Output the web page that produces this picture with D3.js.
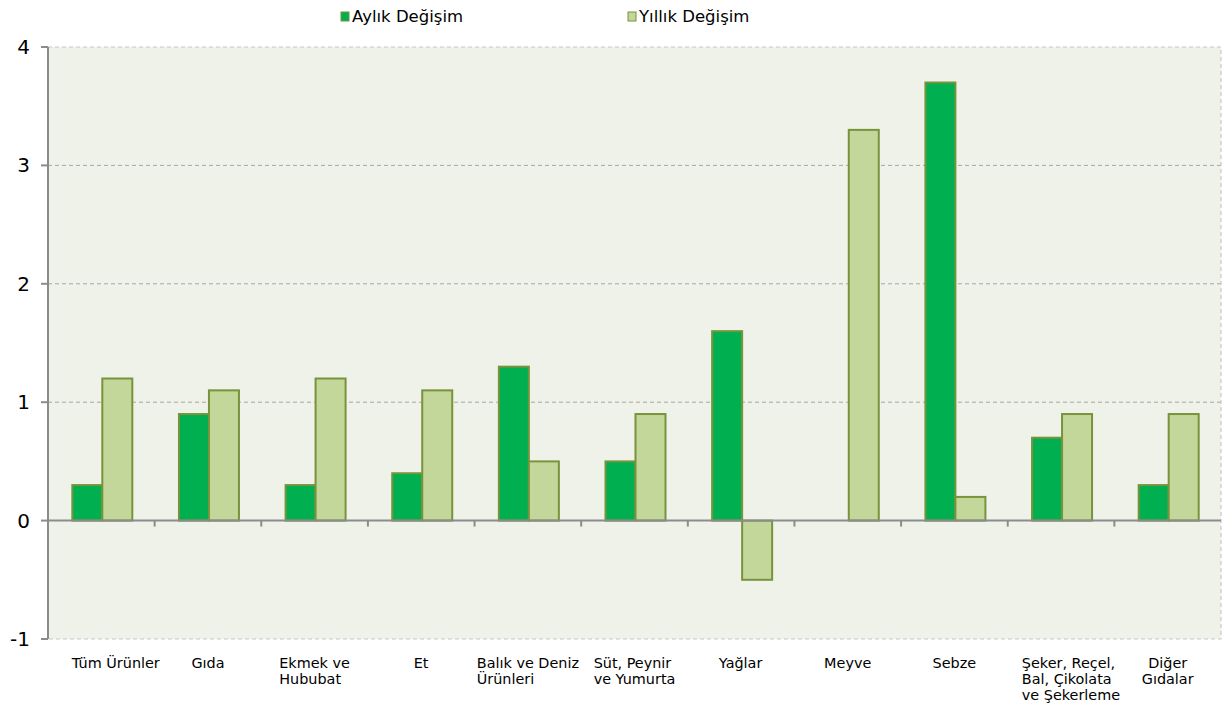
<!DOCTYPE html>
<html><head><meta charset="utf-8">
<script src="https://cdn.jsdelivr.net/npm/d3@7"></script>
<style>body{margin:0;background:#fff}svg{display:block}</style>
</head><body>
<svg id="c" width="1223" height="710"></svg>
<script>
const categories = [["Tüm Ürünler"],["Gıda"],["Ekmek ve","Hububat"],["Et"],["Balık ve Deniz","Ürünleri"],["Süt, Peynir","ve Yumurta"],["Yağlar"],["Meyve"],["Sebze"],["Şeker, Reçel,","Bal, Çikolata","ve Şekerleme"],["Diğer","Gıdalar"]];
const aylik = [0.3,0.9,0.3,0.4,1.3,0.5,1.6,0,3.7,0.7,0.3];
const yillik = [1.2,1.1,1.2,1.1,0.5,0.9,-0.5,3.3,0.2,0.9,0.9];
const seriesNames = ["Aylık Değişim","Yıllık Değişim"];
const yTicks = [-1,0,1,2,3,4];

const svg = d3.select("#c");
const font = "DejaVu Sans, Verdana, sans-serif";
const L=48, R=1221, T=47, B=639;
const x = d3.scaleBand().domain(d3.range(categories.length)).range([L,R]).padding(0);
const y = d3.scaleLinear().domain([-1,4]).range([B,T]);
const colors = ["#00b050","#c4d79b"];
const stroke = "#77933c";

svg.append("rect").attr("x",L).attr("y",T).attr("width",R-L).attr("height",B-T).attr("fill","#eff2e8");
svg.append("g").selectAll("line").data([1,2,3]).join("line")
 .attr("x1",L).attr("x2",R).attr("y1",d=>y(d)).attr("y2",d=>y(d))
 .attr("stroke","#a6a6a6").attr("stroke-dasharray","4,3").attr("stroke-width",1);
svg.append("path").attr("d",`M${L},${T}H${R}V${B}H${L}`).attr("fill","none")
 .attr("stroke","#c8c8c8").attr("stroke-dasharray","4,3").attr("stroke-width",1.2);

const bw = 30;
const g = svg.append("g");
[aylik,yillik].forEach((vals,si)=>{
  g.selectAll(null).data(vals.map((v,i)=>({v,i}))).join("rect")
   .filter(d=>d.v!==0)
   .attr("x",d=>x(d.i)+x.bandwidth()/2 - bw + si*bw + 1)
   .attr("y",d=>y(Math.max(0,d.v)))
   .attr("width",bw)
   .attr("height",d=>Math.abs(y(d.v)-y(0)))
   .attr("fill",colors[si]).attr("stroke",stroke).attr("stroke-width",2);
});

svg.append("line").attr("x1",L).attr("x2",L).attr("y1",T).attr("y2",B).attr("stroke","#8c8c8c").attr("stroke-width",2);
svg.append("g").selectAll("line").data(yTicks).join("line")
 .attr("x1",L-7).attr("x2",L).attr("y1",d=>y(d)).attr("y2",d=>y(d)).attr("stroke","#8c8c8c").attr("stroke-width",2);
svg.append("g").selectAll("text").data(yTicks).join("text")
 .attr("x",30).attr("y",d=>y(d)).attr("dy","0.35em").attr("text-anchor","end")
 .attr("font-family",font).attr("font-size",20).attr("fill","#000").text(d=>d);
svg.append("line").attr("x1",L).attr("x2",R).attr("y1",y(0)).attr("y2",y(0)).attr("stroke","#8c8c8c").attr("stroke-width",2);
svg.append("g").selectAll("line").data(d3.range(1,categories.length)).join("line")
 .attr("x1",d=>x(d)).attr("x2",d=>x(d)).attr("y1",y(0)).attr("y2",y(0)+6).attr("stroke","#8c8c8c").attr("stroke-width",2);

const labelShift = {0:15, 9:10};
categories.forEach((lines,i)=>{
  const t = svg.append("text").attr("font-family",font).attr("font-size",14.4).attr("fill","#000");
  lines.forEach((ln,j)=>t.append("tspan").attr("x",0).attr("y",668+j*16).text(ln));
  const w = t.node().getBBox().width;
  const cx = x(i)+x.bandwidth()/2 + (labelShift[i]||0);
  t.attr("transform",`translate(${cx - w/2},0)`);
  if(lines.length>1 && i===10){ t.selectAll("tspan").attr("text-anchor","middle").attr("x",w/2); }
});

const lx=[341,628];
seriesNames.forEach((n,i)=>{
  svg.append("rect").attr("x",lx[i]).attr("y",12).attr("width",8).attr("height",9).attr("fill",colors[i]).attr("stroke",stroke).attr("stroke-width",1);
  svg.append("text").attr("x",lx[i]+11).attr("y",22).attr("font-family",font).attr("font-size",16.5).attr("fill","#000").text(n);
});
</script>
</body></html>
